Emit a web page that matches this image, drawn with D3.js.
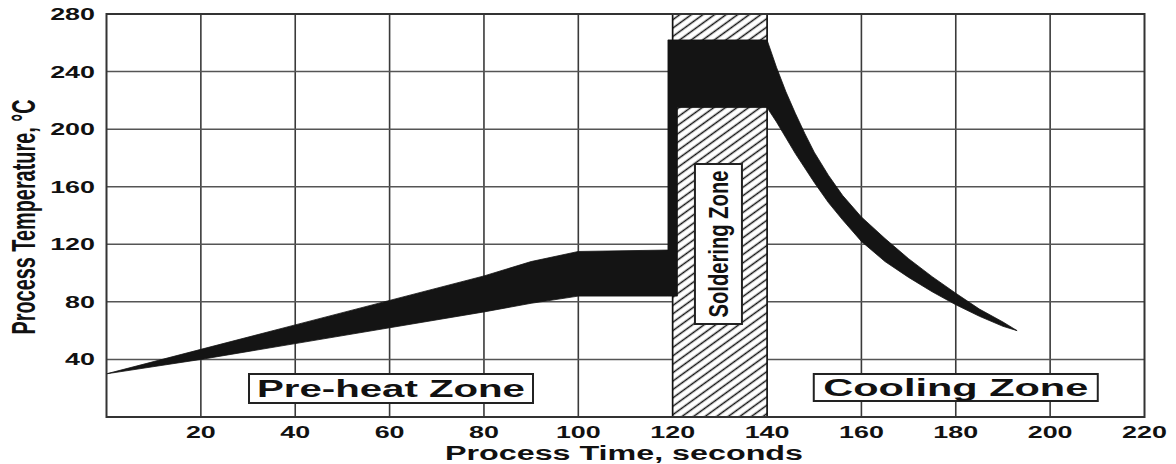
<!DOCTYPE html>
<html><head><meta charset="utf-8">
<script src="https://cdn.jsdelivr.net/npm/d3@7/dist/d3.min.js"></script>
<style>html,body{margin:0;padding:0;background:#fff;} svg{display:block;}</style>
</head><body>
<svg id="chart" width="1176" height="464"></svg>
<script>
// ---------- data ----------
const xTickValues = [20, 40, 60, 80, 100, 120, 140, 160, 180, 200, 220];
const yTickValues = [40, 80, 120, 160, 200, 240, 280];
const xGridValues = [20, 40, 60, 80, 100, 120, 140, 160, 180, 200];
const yGridValues = [40, 80, 120, 160, 200, 240];

// temperature band (process window), seconds vs °C
const profileTime  = [0, 20, 40, 60, 80, 90, 100, 119, 119, 121, 121, 140, 142, 144, 146, 148, 150, 153, 156, 160, 165, 170, 175, 180, 185, 190, 193];
const profileUpper = [30, 47, 64, 81, 98, 108, 115, 116, 262, 262, 262, 262, 243, 226, 211, 197, 184, 168, 154, 139, 124, 110, 97.5, 86, 75, 66, 60];
const profileLower = [30, 40, 51, 62, 73, 79, 84, 84, 84, 84, 215, 215, 205, 194, 183, 173, 163, 149, 137, 122, 108, 97, 87, 78, 70, 63, 60];

const solderZoneStart = 120;
const solderZoneEnd = 140;

const zoneNames = ["Pre-heat Zone", "Soldering Zone", "Cooling Zone"];
const zoneLabelTime = [60.3, 129.7, 180.0];
const zoneLabelTemp = [19.8, 120.2, 20.5];

const xTitle = "Process Time, seconds";
const yTitle = "Process Temperature, °C";

// ---------- layout ----------
const svg = d3.select("#chart");
const x = d3.scaleLinear().domain([0, 220]).range([106.5, 1144.5]);
const y = d3.scaleLinear().domain([0, 280]).range([417, 14]);
const SX = 1.63; // horizontal stretch of the lettering
const FONT = "'Liberation Sans', Arial, sans-serif";

svg.append("rect").attr("width", 1176).attr("height", 464).attr("fill", "#fff");

// hatch pattern
const defs = svg.append("defs");
const pat = defs.append("pattern").attr("id", "hatch")
  .attr("patternUnits", "userSpaceOnUse").attr("width", 12).attr("height", 6.8)
  .attr("patternTransform", "rotate(-36)");
pat.append("rect").attr("width", 12).attr("height", 6.8).attr("fill", "#fff");
pat.append("line").attr("x1", 0).attr("x2", 12).attr("y1", 3.4).attr("y2", 3.4)
  .attr("stroke", "#111").attr("stroke-width", 1.5);

// grid
const grid = svg.append("g");
grid.selectAll("line.v").data(xGridValues).join("line").attr("class", "v")
  .attr("x1", d => x(d)).attr("x2", d => x(d)).attr("y1", y(0)).attr("y2", y(280))
  .attr("stroke", "#3a3a3a").attr("stroke-width", 1.6);
grid.selectAll("line.h").data(yGridValues).join("line").attr("class", "h")
  .attr("x1", x(0)).attr("x2", x(220)).attr("y1", d => y(d)).attr("y2", d => y(d))
  .attr("stroke", "#555").attr("stroke-width", 1.5);

// soldering zone hatched bar
svg.append("rect")
  .attr("x", x(solderZoneStart)).attr("y", y(280))
  .attr("width", x(solderZoneEnd) - x(solderZoneStart)).attr("height", y(0) - y(280))
  .attr("fill", "url(#hatch)").attr("stroke", "#111").attr("stroke-width", 1.6);

// process band
const bandData = profileTime.map((t, i) => ({t, hi: profileUpper[i], lo: profileLower[i]}));
const area = d3.area().x(d => x(d.t)).y0(d => y(d.lo)).y1(d => y(d.hi)).curve(d3.curveLinear);
svg.append("path").datum(bandData).attr("d", area).attr("fill", "#141414")
  .attr("stroke", "#141414").attr("stroke-width", 0.8).attr("stroke-linejoin", "round");

// frame
svg.append("rect").attr("x", x(0)).attr("y", y(280)).attr("width", x(220) - x(0)).attr("height", y(0) - y(280))
  .attr("fill", "none").attr("stroke", "#333").attr("stroke-width", 2);

// axes labels
const ax = svg.append("g").attr("font-family", FONT).attr("font-weight", "bold").attr("fill", "#111");
ax.selectAll("g.xt").data(xTickValues).join("g").attr("class", "xt")
  .attr("transform", d => `translate(${x(d)},438) scale(${SX},1)`)
  .append("text").attr("text-anchor", "middle").attr("font-size", 16.5).text(d => d);
ax.selectAll("g.yt").data(yTickValues).join("g").attr("class", "yt")
  .attr("transform", d => `translate(95,${y(d)}) scale(${SX},1)`)
  .append("text").attr("text-anchor", "end").attr("dy", "0.36em").attr("font-size", 16.5).text(d => d);

ax.append("text").attr("x", 624).attr("y", 460).attr("text-anchor", "middle")
  .attr("font-size", 19.5).attr("textLength", 358).attr("lengthAdjust", "spacingAndGlyphs").text(xTitle);
ax.append("g").attr("transform", `translate(35,217) scale(${SX},1) rotate(-90)`)
  .append("text").attr("text-anchor", "middle").attr("font-size", 20)
  .attr("textLength", 235).attr("lengthAdjust", "spacingAndGlyphs").text(yTitle);

// zone labels
function boxedLabel(i, w, h, fontSize, textLen, vertical) {
  const cx = x(zoneLabelTime[i]), cy = y(zoneLabelTemp[i]);
  const g = svg.append("g");
  g.append("rect").attr("x", cx - w / 2).attr("y", cy - h / 2).attr("width", w).attr("height", h)
    .attr("fill", "#fff").attr("stroke", "#222").attr("stroke-width", 2);
  if (!vertical) {
    g.append("text").attr("x", cx).attr("y", cy + fontSize * 0.36).attr("text-anchor", "middle")
      .attr("font-family", FONT).attr("font-weight", "bold").attr("font-size", fontSize).attr("fill", "#111")
      .attr("textLength", textLen).attr("lengthAdjust", "spacingAndGlyphs").text(zoneNames[i]);
  } else {
    g.append("g").attr("transform", `translate(${cx + 9.5},${cy}) scale(1.5,1) rotate(-90)`)
      .append("text").attr("text-anchor", "middle")
      .attr("font-family", FONT).attr("font-weight", "bold").attr("font-size", 18).attr("fill", "#111")
      .attr("textLength", textLen).attr("lengthAdjust", "spacingAndGlyphs").text(zoneNames[i]);
  }
}
boxedLabel(0, 284, 29, 23, 268, false);
boxedLabel(2, 284, 27, 23, 265, false);
boxedLabel(1, 47, 160, 17, 147, true);
</script>
</body></html>
